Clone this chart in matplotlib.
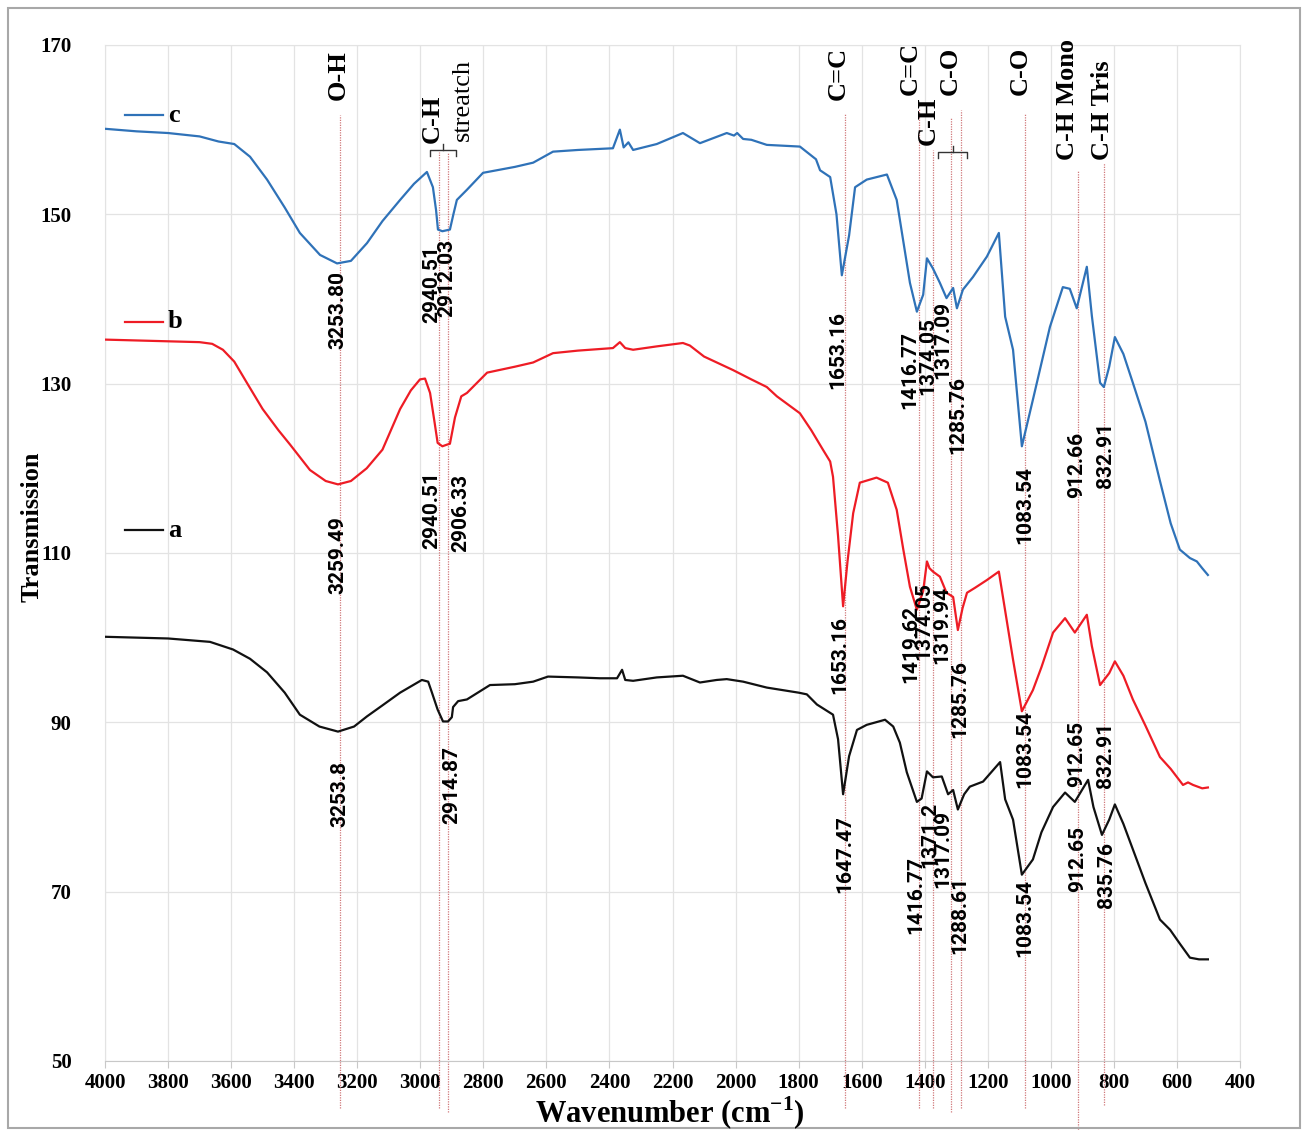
import matplotlib
import matplotlib.pyplot as plt
from matplotlib.patches import Rectangle

matplotlib.use("Agg")

plt.rcParams["mathtext.fontset"] = "custom"
plt.rcParams["mathtext.bf"] = "Liberation Serif:bold"
plt.rcParams["mathtext.rm"] = "Liberation Serif:bold"

# ---- spectra (wavenumber cm-1, transmission) ----
wn_c = [4000, 3900, 3800, 3700, 3640, 3590, 3540, 3486, 3430, 3382, 3318, 3264,
        3220, 3169, 3120, 3064, 3020, 2979, 2960, 2950, 2944, 2930, 2918, 2906,
        2895, 2884, 2852, 2801, 2700, 2642, 2579, 2500, 2389, 2367, 2355, 2340,
        2325, 2250, 2167, 2113, 2028, 2005, 1995, 1976, 1950, 1901, 1796, 1745,
        1732, 1700, 1680, 1663, 1640, 1621, 1584, 1520, 1489, 1447, 1425, 1405,
        1393, 1374, 1352, 1331, 1310, 1298, 1279, 1247, 1203, 1165, 1145, 1120,
        1092, 1057, 1003, 962, 940, 918, 886, 870, 844, 832, 815, 797, 770, 740,
        700, 654, 620, 591, 559, 537, 520, 502]
tr_c = [160.1, 159.8, 159.6, 159.2, 158.6, 158.3, 156.8, 154.1, 150.8, 147.8,
        145.2, 144.2, 144.5, 146.6, 149.2, 151.7, 153.6, 155.0, 153.2, 150.5,
        148.2, 148.0, 148.1, 148.2, 150.0, 151.7, 152.9, 154.9, 155.6, 156.1,
        157.4, 157.6, 157.8, 160.0, 157.9, 158.5, 157.6, 158.3, 159.6, 158.4,
        159.6, 159.3, 159.6, 158.9, 158.8, 158.2, 158.0, 156.5, 155.2, 154.4,
        150.0, 142.8, 147.5, 153.2, 154.1, 154.7, 151.7, 141.9, 138.5, 140.5,
        144.8, 143.6, 141.9, 140.1, 141.3, 138.9, 141.1, 142.6, 145.0, 147.8,
        137.9, 134.0, 122.6, 128.1, 136.7, 141.4, 141.2, 138.9, 143.8, 138.0,
        130.1, 129.6, 132.0, 135.5, 133.5, 130.1, 125.5, 118.5, 113.5, 110.4,
        109.4, 109.0, 108.2, 107.4]

wn_b = [4000, 3900, 3800, 3700, 3660, 3626, 3590, 3550, 3500, 3450, 3413, 3350,
        3300, 3261, 3220, 3170, 3120, 3064, 3030, 3001, 2985, 2969, 2955, 2945,
        2930, 2915, 2906, 2890, 2870, 2852, 2788, 2700, 2642, 2579, 2500, 2389,
        2367, 2350, 2325, 2250, 2167, 2145, 2100, 2008, 1950, 1901, 1869, 1796,
        1760, 1723, 1700, 1691, 1675, 1659, 1645, 1627, 1606, 1553, 1517, 1489,
        1468, 1447, 1425, 1405, 1393, 1385, 1374, 1352, 1331, 1310, 1295, 1280,
        1266, 1240, 1203, 1165, 1152, 1120, 1092, 1057, 1030, 993, 955, 924, 886,
        870, 844, 815, 797, 770, 740, 700, 654, 620, 581, 565, 549, 520, 502]
tr_b = [135.2, 135.1, 135.0, 134.9, 134.7, 134.0, 132.6, 130.1, 127.0, 124.5,
        122.8, 119.8, 118.5, 118.1, 118.5, 120.0, 122.2, 127.0, 129.2, 130.5,
        130.6, 128.9, 125.5, 123.0, 122.6, 122.8, 122.9, 126.0, 128.5, 128.9,
        131.3, 132.0, 132.5, 133.6, 133.9, 134.2, 134.9, 134.2, 134.0, 134.4,
        134.8, 134.5, 133.2, 131.6, 130.5, 129.6, 128.5, 126.5, 124.5, 122.2,
        120.8, 119.0, 112.0, 103.7, 109.0, 114.7, 118.3, 118.9, 118.3, 115.1,
        110.4, 106.0, 103.3, 105.5, 109.0, 108.2, 107.8, 107.2, 105.3, 104.8,
        100.9, 103.5, 105.3, 105.9, 106.8, 107.8, 104.8, 97.4, 91.3, 93.8, 96.5,
        100.6, 102.3, 100.6, 102.7, 99.0, 94.4, 95.8, 97.2, 95.5, 92.7, 89.6,
        85.9, 84.5, 82.6, 82.9, 82.6, 82.2, 82.3]

wn_a = [4000, 3800, 3667, 3594, 3540, 3486, 3430, 3382, 3320, 3261, 3210, 3169,
        3120, 3064, 2995, 2975, 2963, 2945, 2928, 2912, 2900, 2896, 2880, 2852,
        2779, 2700, 2642, 2595, 2500, 2430, 2376, 2360, 2350, 2325, 2250, 2167,
        2113, 2060, 2028, 1976, 1901, 1800, 1774, 1742, 1691, 1675, 1659, 1640,
        1615, 1584, 1526, 1500, 1479, 1457, 1425, 1410, 1393, 1374, 1346, 1326,
        1310, 1295, 1275, 1257, 1215, 1161, 1145, 1120, 1092, 1057, 1030, 993,
        955, 924, 882, 865, 838, 815, 797, 770, 740, 700, 654, 622, 590, 559,
        530, 502]
tr_a = [100.1, 99.9, 99.5, 98.6, 97.5, 95.9, 93.5, 90.9, 89.5, 88.9, 89.5, 90.7,
        92.0, 93.5, 95.0, 94.8, 93.5, 91.5, 90.1, 90.1, 90.6, 91.8, 92.5, 92.7,
        94.4, 94.5, 94.8, 95.4, 95.3, 95.2, 95.2, 96.2, 95.0, 94.9, 95.3, 95.5,
        94.7, 95.0, 95.1, 94.8, 94.1, 93.5, 93.3, 92.1, 90.9, 88.0, 81.5, 86.0,
        89.1, 89.7, 90.3, 89.5, 87.6, 84.1, 80.6, 81.0, 84.2, 83.5, 83.6, 81.5,
        82.0, 79.7, 81.5, 82.4, 83.0, 85.3, 80.9, 78.5, 72.0, 73.8, 77.0, 80.0,
        81.7, 80.6, 83.2, 80.0, 76.7, 78.5, 80.3, 78.0, 75.0, 71.0, 66.7, 65.5,
        63.8, 62.2, 62.0, 62.0]

series_names = ["c", "b", "a"]
series_colors = ["#2f72b8", "#ee1c25", "#111111"]

# ---- peak markers: wavenumber and extent of the dotted guide ----
peak_lines = [3253.80, 2940.51, 2912.03, 1653.16, 1416.77, 1374.05,
              1317.09, 1285.76, 1083.54, 912.66, 832.91]
peak_tops = [161.7, 157.4, 157.4, 162.0, 162.6, 157.6,
             161.5, 162.3, 162.0, 155.2, 156.1]
peak_bottoms = [44.5, 44.5, 44.0, 44.5, 44.5, 44.5,
                44.0, 44.5, 44.5, 41.8, 44.8]

# band assignments (text, x, bottom y)
bands = ["O-H", "C-H", "C=C", "C=C", "C-H", "C-O", "C-O", "C-H Mono", "C-H Tris"]
band_x = [3261, 2963, 1675, 1447, 1390, 1320, 1098, 946, 835]
band_y = [163.5, 158.4, 163.5, 164.1, 158.2, 164.1, 164.1, 156.4, 156.4]

# braces grouping doublets (x from, x to, y)
brace_x0 = [2968, 1358]
brace_x1 = [2888, 1266]
brace_y = [157.6, 157.4]

# peak value labels (text, x, centre y)
labels_c = ["3253.80", "2940.51", "2912.03", "1653.16", "1416.77", "1374.05",
            "1317.09", "1285.76", "1083.54", "912.66", "832.91"]
lx_c = [3261, 2963, 2915, 1675, 1447, 1390, 1342, 1295, 1082, 917, 828]
ly_c = [138.7, 141.8, 142.5, 134.0, 131.6, 133.3, 135.2, 126.3, 115.7, 120.4, 121.6]

labels_b = ["3259.49", "2940.51", "2906.33", "1653.16", "1419.62", "1374.05",
            "1319.94", "1285.76", "1083.54", "912.65", "832.91"]
lx_b = [3261, 2963, 2871, 1669, 1444, 1403, 1345, 1288, 1082, 917, 828]
ly_b = [109.7, 115.1, 114.7, 98.0, 99.2, 101.9, 101.5, 92.7, 86.8, 86.2, 86.2]

labels_a = ["3253.8", "2914.87", "1647.47", "1416.77", "1371.2", "1317.09",
            "1288.61", "1083.54", "912.65", "835.76"]
lx_a = [3255, 2900, 1653, 1428, 1383, 1342, 1288, 1082, 914, 822]
ly_a = [81.5, 82.6, 74.4, 69.6, 76.7, 75.0, 67.3, 66.9, 73.8, 72.0]

legend_y = [161.7, 137.3, 112.7]

serif = "Liberation Serif"
num_font = ["Roboto", "DejaVu Sans"]

fig = plt.figure(figsize=(13.06, 11.30), dpi=100)
ax = fig.add_axes([0.0804, 0.0611, 0.8691, 0.8991])

ax.set_xlim(4000, 400)
ax.set_ylim(50, 170)
ax.set_xticks(range(4000, 399, -200))
ax.set_yticks(range(50, 171, 20))
ax.grid(True, color="#e3e3e3", lw=0.9)
ax.set_axisbelow(True)
for side in ["left", "top", "right"]:
    ax.spines[side].set_color("#e3e3e3")
ax.spines["bottom"].set_color("#c8c8c8")
ax.tick_params(axis="x", length=5, color="#c8c8c8", pad=4)
ax.tick_params(axis="y", length=0, pad=24)
for lab in ax.get_xticklabels() + ax.get_yticklabels():
    lab.set_fontfamily(serif)
    lab.set_fontweight("bold")
    lab.set_fontsize(15)

# dotted guide lines
for x, top, bot in zip(peak_lines, peak_tops, peak_bottoms):
    ax.plot([x, x], [bot, top], color="#d0787a", lw=0.9,
            linestyle=(0, (1, 1)), clip_on=False, zorder=1)

# spectra
for wn, tr, col in zip([wn_c, wn_b, wn_a], [tr_c, tr_b, tr_a], series_colors):
    ax.plot(wn, tr, color=col, lw=1.6, zorder=3)

# series tags
for name, col, y in zip(series_names, series_colors, legend_y):
    ax.plot([3937, 3816], [y, y], color=col, lw=1.6)
    ax.text(3800, y, name, fontfamily=serif, fontweight="bold", fontsize=19,
            va="center", ha="left")

# band assignment labels
for t, x, y in zip(bands, band_x, band_y):
    ax.text(x, y, t, rotation=90, ha="center", va="bottom", fontfamily=serif,
            fontweight="bold", fontsize=19, clip_on=False, zorder=4)
ax.text(2866, 158.6, "streatch", rotation=90, ha="center", va="bottom",
        fontfamily=serif, fontsize=19, zorder=4)

# braces
for x0, x1, y in zip(brace_x0, brace_x1, brace_y):
    xm = (x0 + x1) / 2
    ax.plot([x0, x0, x1, x1], [y - 0.7, y, y, y - 0.7], color="#333333",
            lw=1.0, zorder=4)
    ax.plot([xm, xm], [y, y + 0.7], color="#333333", lw=1.0, zorder=4)

# peak value labels
for texts, xs, ys in [(labels_c, lx_c, ly_c), (labels_b, lx_b, ly_b),
                      (labels_a, lx_a, ly_a)]:
    for t, x, y in zip(texts, xs, ys):
        ax.text(x, y, t, rotation=90, ha="center", va="center",
                family=num_font, fontweight="bold", fontsize=15, zorder=4)

fig.text(670 / 1306, 1 - 1113 / 1130, r"Wavenumber (cm$^{\mathbf{-1}}$)",
         ha="center", va="center", fontfamily=serif, fontweight="bold",
         fontsize=22)
fig.text(32 / 1306, 1 - 527 / 1130, "Transmission", rotation=90,
         ha="center", va="center", fontfamily=serif, fontweight="bold",
         fontsize=19)

fig.patches.append(Rectangle((8 / 1306, 2 / 1130), 1292 / 1306, 1120 / 1130,
                             transform=fig.transFigure, fill=False,
                             edgecolor="#a8a8a8", lw=1.5))

fig.savefig("out.png", dpi=100)
plt.close(fig)
